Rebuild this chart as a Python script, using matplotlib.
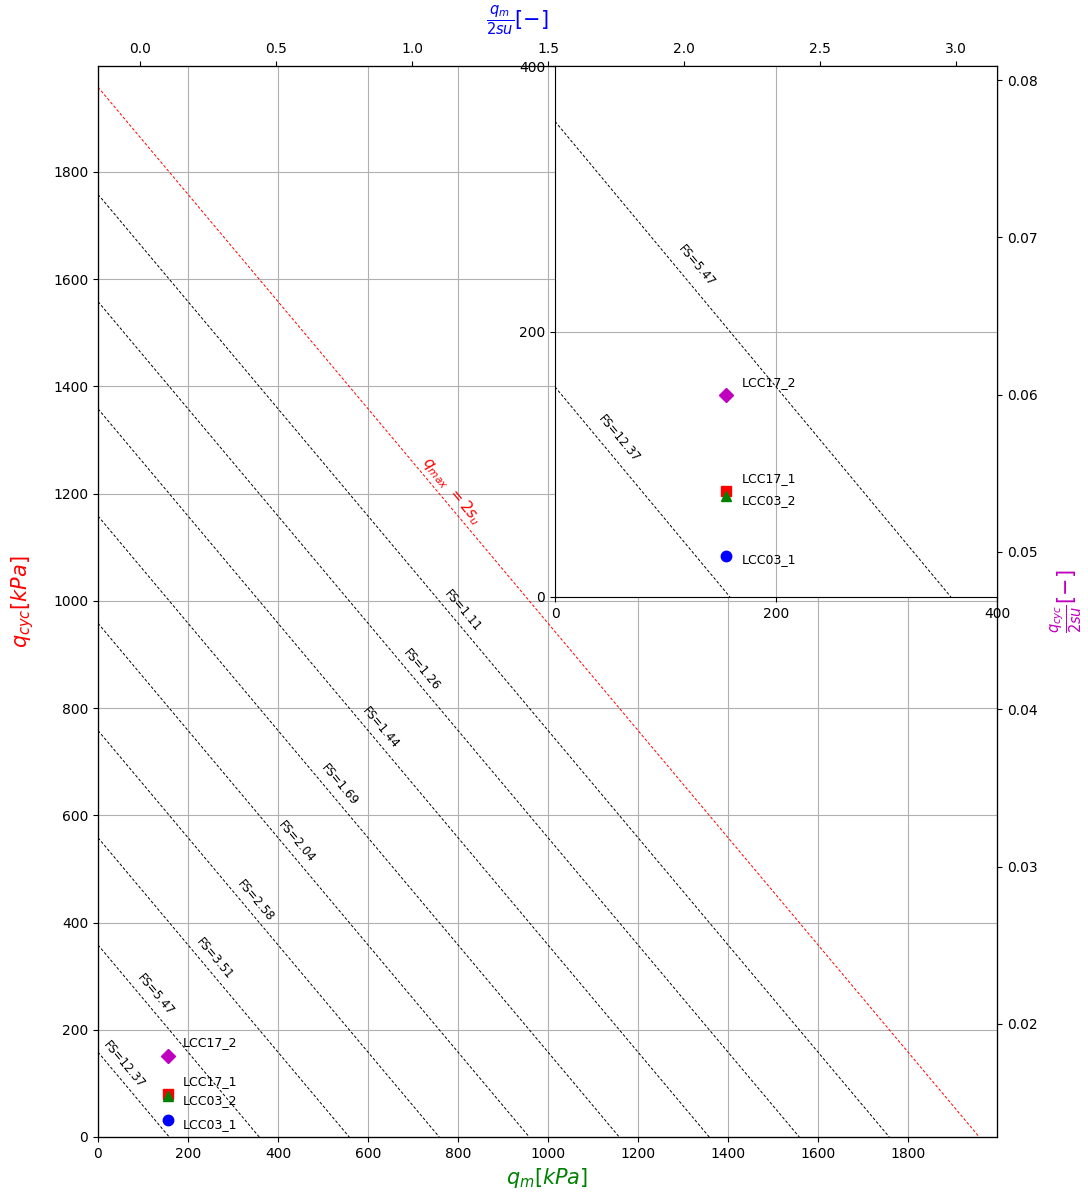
import numpy as np
import matplotlib.pyplot as plt

# undrained strength, kPa (2su = capacity line)
two_su = 1958.3

# FS lines: qm + qcyc = const
fs_intercepts = [1758.3, 1558.3, 1358.3, 1158.3, 958.3, 758.3, 558.3, 358.3, 158.3]
fs_labels = ['FS=1.11', 'FS=1.26', 'FS=1.44', 'FS=1.69', 'FS=2.04',
             'FS=2.58', 'FS=3.51', 'FS=5.47', 'FS=12.37']

# tests
test_names = ['LCC17_2', 'LCC17_1', 'LCC03_2', 'LCC03_1']
test_qm = [155, 155, 155, 155]
test_qcyc = [152, 80, 76, 31]
test_styles = ['mD', 'rs', 'g^', 'bo']

# where along each line the FS label sits (qm, kPa)
label_x_main = [811, 720, 629, 536, 442, 351, 260, 127, 58]
label_x_inset = {'FS=5.47': 128, 'FS=12.37': 58}
text_offsets = [(11, 9), (11, 9), (11, -3), (11, -3)]

fig = plt.figure(figsize=(10.88, 11.98), dpi=100)
ax = fig.add_axes([98/1088, 61/1198, 899/1088, 1071/1198])

lim = 1997.7
ax.set_xlim(0, lim)
ax.set_ylim(0, lim)
ax.set_xticks(np.arange(0, 1801, 200))
ax.set_yticks(np.arange(0, 1801, 200))
ax.grid(True, color='#b0b0b0', lw=0.8)

ang = -np.degrees(np.arctan((1071/lim) / (899/lim)))


def draw_lines(a, label_xs, dy, only_labelled=False):
    for c, lab in zip(fs_intercepts, fs_labels):
        if only_labelled and lab not in label_xs:
            continue
        a.plot([0, c], [c, 0], 'k--', lw=0.7, dashes=(3, 2))
        if lab in label_xs:
            x = label_xs[lab]
            a.annotate(lab, xy=(x, c - x), xytext=(0, dy), textcoords='offset points',
                       ha='center', va='center', rotation=ang, fontsize=8.5,
                       annotation_clip=False)
    for qm, q, n, st, off in zip(test_qm, test_qcyc, test_names, test_styles, text_offsets):
        a.plot(qm, q, st, ms=7.5)
        a.annotate(n, xy=(qm, q), xytext=off,
                   textcoords='offset points', ha='left', va='center', fontsize=9)


draw_lines(ax, dict(zip(fs_labels, label_x_main)), 13)
ax.plot([0, two_su], [two_su, 0], 'r--', lw=0.7, dashes=(3, 2))
ax.annotate(r'$q_{max}\ = 2s_u$', xy=(786, two_su - 786), xytext=(0, 13),
            textcoords='offset points', ha='center', va='center',
            rotation=ang, color='r', fontsize=11)

ax.set_xlabel(r'$q_m[kPa]$', color='g', fontsize=15)
ax.set_ylabel(r'$q_{cyc}[kPa]$', color='r', fontsize=15, labelpad=12)

axt = ax.twiny()
axt.set_xlim(-42/272, 857/272)
axt.set_xlabel(r'$\frac{q_m}{2su}[-]$', color='b', fontsize=15)
axt.xaxis.set_label_coords(0.466, 1.036)

axr = ax.twinx()
axr.set_ylim(0.02 - 113/15733, 0.08 + 14/15733)
axr.set_ylabel(r'$\frac{q_{cyc}}{2su}[-]$', color='m', fontsize=15, labelpad=8)

ins = fig.add_axes([555/1088, 601/1198, 442/1088, 531/1198])
ins.set_zorder(10)
ins.set_xlim(0, 400)
ins.set_ylim(0, 400)
ins.set_xticks([0, 200, 400])
ins.set_yticks([0, 200, 400])
ins.grid(True, color='#b0b0b0', lw=0.8)
draw_lines(ins, label_x_inset, 18, only_labelled=True)

fig.savefig('out.png', dpi=100)
